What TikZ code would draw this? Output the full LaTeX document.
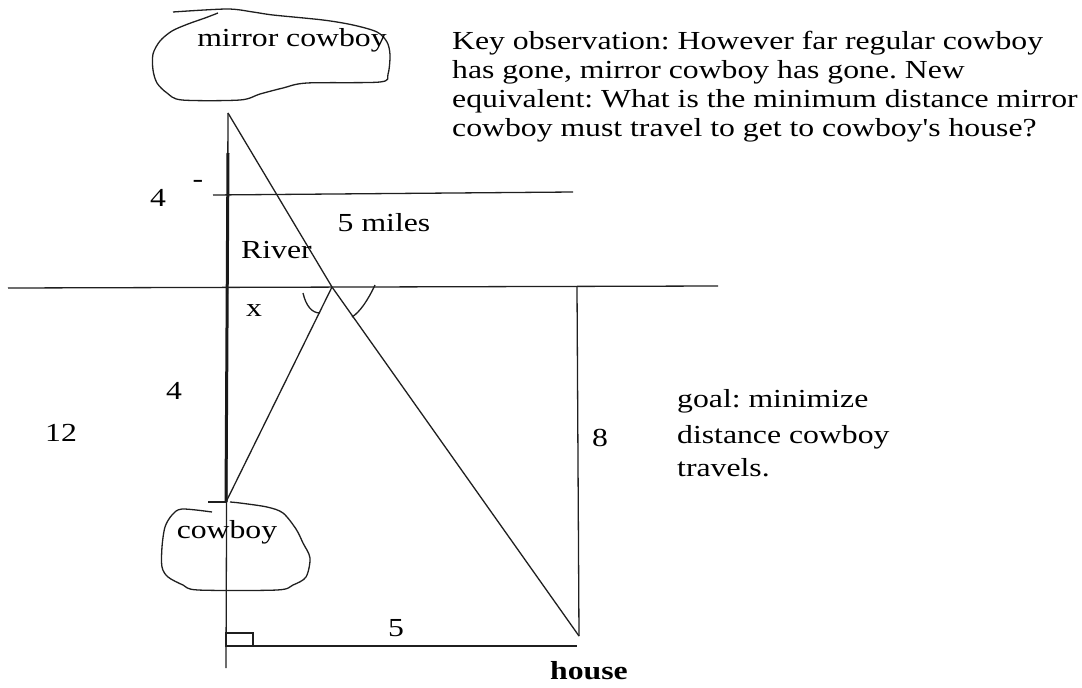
\documentclass[tikz,border=0pt]{standalone}
\usepackage{fontspec}
\setmainfont{Liberation Serif}[Ligatures=TeXOff, FakeStretch=1.22]
\begin{document}
\frenchspacing
\begin{tikzpicture}[x=1pt,y=-1pt,
  ln/.style={line width=1.3pt, color=black!88},
  thk/.style={line width=3pt, color=black!90},
  txt/.style={inner sep=0pt, font=\fontsize{26}{30}\selectfont, text=black},
  lbl/.style={txt, anchor=base},
  lft/.style={txt, anchor=base west}]
\useasboundingbox (0,0) rectangle (1082,688);
% key points
\coordinate (M) at (228,113);
\coordinate (P) at (332,287);
\coordinate (C) at (226,502);
\coordinate (H) at (579,636);
\coordinate (Vtop) at (228,153);
\coordinate (Vbot) at (226,668);
\coordinate (Ctick) at (208,502);
\coordinate (UB1) at (213,195);
\coordinate (UB2) at (573,192);
\coordinate (LB1) at (8,288);
\coordinate (LB2) at (718,286);
\coordinate (HV) at (577,287);
\coordinate (B1) at (226,646);
\coordinate (B2) at (577,646);
% vertical main line
\draw[ln] (M) -- (Vbot);
\draw[thk] (Vtop) -- (C);
\draw[ln] (Ctick) -- (C);
% river banks
\draw[ln] (UB1) -- (UB2);
\draw[ln] (LB1) -- (LB2);
% house side and bottom
\draw[ln] (HV) -- (H);
\draw[ln] (B1) -- (B2);
\draw[ln] (226,633) rectangle (253,646);
% paths
\draw[ln] (M) -- (P) -- (H);
\draw[ln] (C) -- (P);
% angle marks
\draw[ln] (303,293) .. controls (306,306) and (312,313) .. (320,313);
\draw[ln] (375,285) .. controls (368,300) and (360,312) .. (352,317);
% blobs
\draw[ln] plot[smooth, tension=0.5] coordinates {(218,13) (205,18) (188,24) (172,31) (160,41) (153,54) (153,70) (157,83) (167,93) (182,100) (240,100) (260,94) (283,88) (307,83) (380,82) (388,74) (390,55) (387,42) (377,32) (353,25) (323,20) (273,15) (253,12) (227,9) (173,12)};
\draw[ln] plot[smooth, tension=0.5] coordinates {(212,512) (182,509) (172,515) (165,527) (162,547) (162,567) (168,577) (183,585) (198,590) (277,590) (293,585) (306,577) (310,558) (303,543) (296,529) (283,513) (267,507) (240,503) (230,502)};
% labels
\node[lbl] (tmirror) at (292,46) {mirror cowboy};
\node[lbl] (tcowboy) at (227,538) {cowboy};
\node[lbl] (tfour1) at (158,206) {4};
\node[lbl] (tdash) at (198,187) {-};
\node[lbl] (tmiles) at (384,231) {5 miles};
\node[lft] (triver) at (241,258) {River};
\node[lbl] (tx) at (254,316) {x};
\node[lbl] (tfour2) at (174,399) {4};
\node[lbl] (ttwelve) at (61,441) {12};
\node[lbl] (teight) at (600,446) {8};
\node[lbl] (tfive) at (396,636) {5};
\node[lbl, font=\fontsize{26}{30}\selectfont\bfseries] (thouse) at (589,679) {house};
\node[lft] (k1) at (452,49) {Key observation: However far regular cowboy};
\node[lft] (k2) at (452,78) {has gone, mirror cowboy has gone. New};
\node[lft] (k3) at (452,107) {equivalent: What is the minimum distance mirror};
\node[lft] (k4) at (452,136) {cowboy must travel to get to cowboy's house?};
\node[lft] (g1) at (677,407) {goal: minimize};
\node[lft] (g2) at (677,443) {distance cowboy};
\node[lft] (g3) at (677,476) {travels.};
\end{tikzpicture}
\end{document}
